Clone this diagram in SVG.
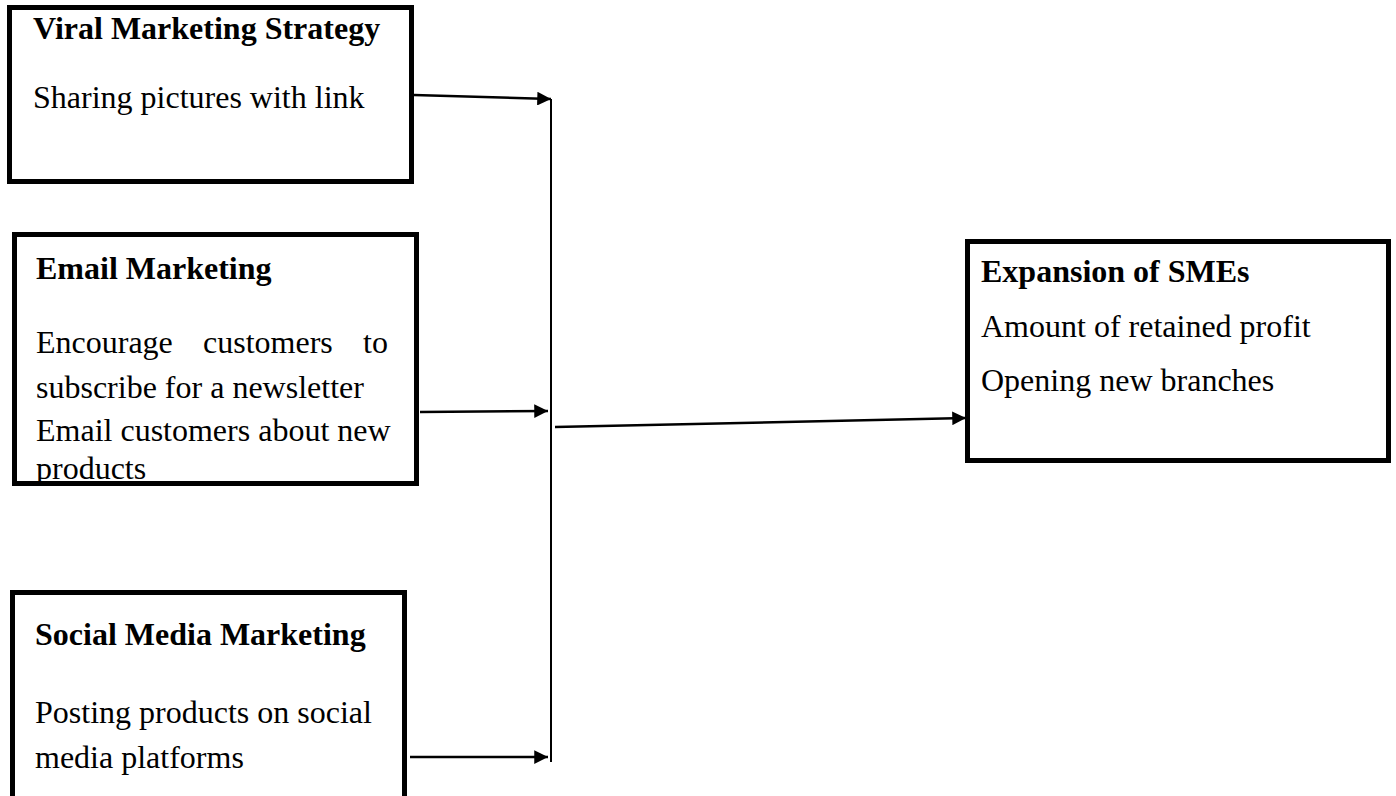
<svg xmlns="http://www.w3.org/2000/svg" width="1396" height="796" viewBox="0 0 1396 796">
<style>
.box{fill:#fff;stroke:#000;stroke-width:5}
.t{font-family:"Liberation Serif","Times New Roman",serif;font-size:32px;fill:#000}
.b{font-weight:bold}
.c{stroke:#000;stroke-width:2.5;fill:none}
.v{stroke:#000;stroke-width:2;fill:none}
</style>
<defs>
<marker id="ah" viewBox="0 0 10 10" refX="10" refY="5" markerWidth="6.5" markerHeight="5.5" markerUnits="strokeWidth" orient="auto">
<path d="M0,0 L10,5 L0,10 Z" fill="#000"/>
</marker>
<clipPath id="clipEmail"><rect x="16" y="236" width="398" height="246"/></clipPath>
</defs>
<rect width="1396" height="796" fill="#fff"/>
<g id="viral">
<rect class="box" x="9.5" y="7.5" width="402" height="174"/>
<text class="t b" x="33" y="39">Viral Marketing Strategy</text>
<text class="t" x="33" y="108">Sharing pictures with link</text>
</g>
<g id="email">
<rect class="box" x="14.5" y="234.5" width="402" height="249"/>
<g clip-path="url(#clipEmail)">
<text class="t b" x="36" y="279">Email Marketing</text>
<text class="t" y="353"><tspan x="36">Encourage</tspan><tspan x="203">customers</tspan><tspan x="363">to</tspan></text>
<text class="t" x="36" y="398">subscribe for a newsletter</text>
<text class="t" x="36" y="441">Email customers about new</text>
<text class="t" x="36" y="479">products</text>
</g>
</g>
<g id="social">
<rect class="box" x="12.5" y="592.5" width="392" height="230"/>
<text class="t b" x="35" y="645">Social Media Marketing</text>
<text class="t" x="35" y="723">Posting products on social</text>
<text class="t" x="35" y="768">media platforms</text>
</g>
<g id="expansion">
<rect class="box" x="967.5" y="241.5" width="421" height="219"/>
<text class="t b" x="981" y="282">Expansion of SMEs</text>
<text class="t" x="981" y="337">Amount of retained profit</text>
<text class="t" x="981" y="391">Opening new branches</text>
</g>
<g id="connectors">
<line class="v" x1="551" y1="99" x2="551" y2="762"/>
<line class="c" x1="414" y1="95" x2="551" y2="99" marker-end="url(#ah)"/>
<line class="c" x1="420" y1="412" x2="548" y2="411" marker-end="url(#ah)"/>
<line class="c" x1="555" y1="427" x2="966" y2="418" marker-end="url(#ah)"/>
<line class="c" x1="410" y1="757" x2="548" y2="757" marker-end="url(#ah)"/>
</g>
</svg>
